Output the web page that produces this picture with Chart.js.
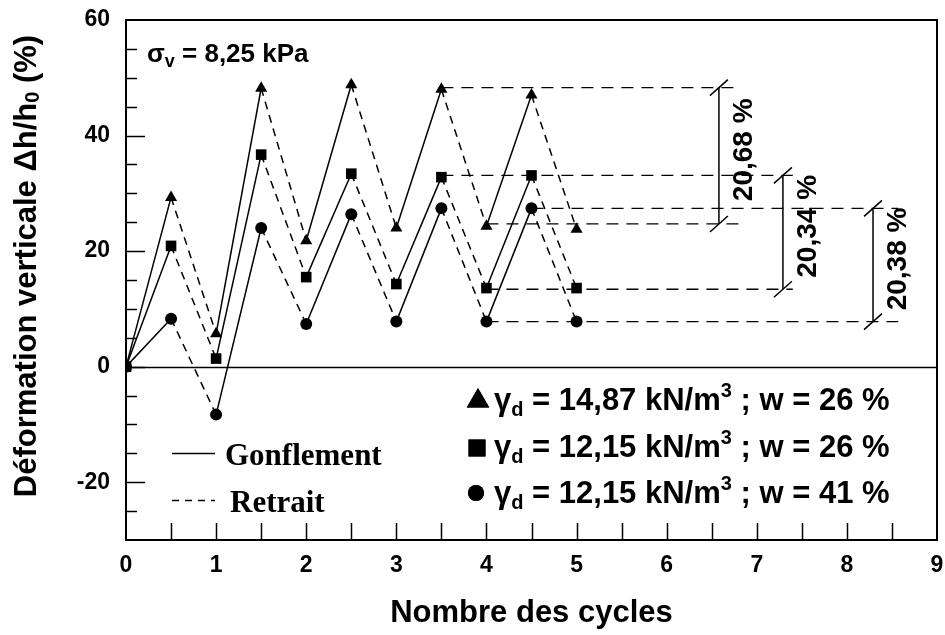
<!DOCTYPE html>
<html>
<head>
<meta charset="utf-8">
<script src="https://cdn.jsdelivr.net/npm/chart.js@4.4.0/dist/chart.umd.min.js"></script>
<style>
  html, body { margin: 0; padding: 0; background: #fff; }
  canvas { display: block; }
</style>
</head>
<body>
<canvas id="chart" width="945" height="635"></canvas>
<script>
// valeurs
const cycles = [0, 0.5, 1, 1.5, 2, 2.5, 3, 3.5, 4, 4.5, 5];
const triangleVals = [0, 29.3, 5.7, 48.2, 21.8, 48.8, 24.0, 48.0, 24.3, 47.0, 23.8];
const squareVals = [0, 20.9, 1.4, 36.7, 15.5, 33.4, 14.3, 32.8, 13.6, 33.1, 13.6];
const circleVals = [0, 8.3, -8.3, 24.0, 7.4, 26.4, 7.8, 27.4, 7.8, 27.4, 7.8];

const legendGamma = ["14,87", "12,15", "12,15"];
const legendW = ["26", "26", "41"];

// lignes de repère horizontales (niveaux max / min du dernier cycle)
const refLevels = [48.3, 24.7, 33.1, 13.4, 27.4, 7.8];
const refFrom = [3.5, 4, 3.5, 4, 4.5, 4];
const refTo = [6.8, 6.8, 7.4, 7.4, 8.57, 8.57];

// cotes verticales
const dimX = [6.58, 7.29, 8.29];
const dimTop = [48.3, 33.1, 27.4];
const dimBottom = [24.7, 13.4, 7.8];
const dimLabels = ["20,68 %", "20,34 %", "20,38 %"];

const xTicks = { min: 0, max: 9, step: 0.5 };
const yTicks = { min: -30, max: 60, step: 5, labelEvery: 20 };

const SANS = "'Liberation Sans', Arial, sans-serif";
const SERIF = "'Liberation Serif', 'Times New Roman', serif";

function pts(ys) {
  return cycles.map((x, i) => ({ x, y: ys[i] }));
}

function series(label, ys, style, radius) {
  return {
    label,
    data: pts(ys),
    showLine: true,
    borderColor: "#000",
    backgroundColor: "#000",
    borderWidth: 1.5,
    pointStyle: style,
    pointRadius: radius,
    pointBorderWidth: 0,
    segment: {
      // montée = gonflement (trait plein), descente = retrait (tirets)
      borderDash: ctx => (ctx.p0.parsed.x % 1 === 0 ? [] : [8, 6])
    }
  };
}

const refSets = refLevels.map((lv, i) => ({
  data: [{ x: refFrom[i], y: lv }, { x: refTo[i], y: lv }],
  showLine: true,
  borderColor: "#000",
  borderWidth: 1.3,
  borderDash: [12, 8],
  pointRadius: 0
}));

const dimSets = dimX.map((x, i) => ({
  data: [{ x, y: dimTop[i] }, { x, y: dimBottom[i] }],
  showLine: true,
  borderColor: "#000",
  borderWidth: 1.5,
  pointRadius: 0
}));

function richText(ctx, x, y, parts) {
  // parts: [texte, taille, décalage vertical]
  let cx = x;
  for (const [t, size, dy] of parts) {
    ctx.font = `bold ${size}px ${SANS}`;
    ctx.fillText(t, cx, y + dy);
    cx += ctx.measureText(t).width;
  }
  return cx - x;
}

function richWidth(ctx, parts) {
  let w = 0;
  for (const [t, size] of parts) {
    ctx.font = `bold ${size}px ${SANS}`;
    w += ctx.measureText(t).width;
  }
  return w;
}

const decor = {
  id: "decor",
  beforeDatasetsDraw(chart) {
    const { ctx, chartArea: a, scales: { y } } = chart;
    ctx.save();
    ctx.strokeStyle = "#000";
    ctx.lineWidth = 1.5;
    const y0 = Math.round(y.getPixelForValue(0)) + 0.5;
    ctx.beginPath();
    ctx.moveTo(a.left, y0);
    ctx.lineTo(a.right, y0);
    ctx.stroke();
    ctx.restore();
  },
  afterDraw(chart) {
    const { ctx, chartArea: a, scales: { x, y } } = chart;
    ctx.save();
    ctx.strokeStyle = "#000";
    ctx.fillStyle = "#000";

    // cadre
    ctx.lineWidth = 2;
    ctx.strokeRect(a.left, a.top, a.right - a.left, a.bottom - a.top);

    // graduations vers l'intérieur
    ctx.lineWidth = 1.5;
    ctx.beginPath();
    x.ticks.forEach(t => {
      if (t.value <= xTicks.min || t.value >= xTicks.max) return;
      const px = Math.round(x.getPixelForValue(t.value)) + 0.5;
      ctx.moveTo(px, a.bottom);
      ctx.lineTo(px, a.bottom - 17);
    });
    y.ticks.forEach(t => {
      if (t.value <= yTicks.min || t.value >= yTicks.max) return;
      const py = Math.round(y.getPixelForValue(t.value)) + 0.5;
      const len = t.value % yTicks.labelEvery === 0 ? 19 : 11;
      ctx.moveTo(a.left, py);
      ctx.lineTo(a.left + len, py);
    });
    ctx.stroke();

    // cotes : petites barres obliques et valeurs
    dimX.forEach((v, i) => {
      const px = x.getPixelForValue(v);
      const pt = y.getPixelForValue(dimTop[i]);
      const pb = y.getPixelForValue(dimBottom[i]);
      ctx.lineWidth = 1.5;
      ctx.beginPath();
      [pt, pb].forEach(py => {
        ctx.moveTo(px - 9, py + 8);
        ctx.lineTo(px + 9, py - 8);
      });
      ctx.stroke();
      ctx.save();
      ctx.translate(px + 25, (pt + pb) / 2 - 6);
      ctx.rotate(-Math.PI / 2);
      ctx.font = `bold 28px ${SANS}`;
      ctx.textAlign = "center";
      ctx.textBaseline = "middle";
      ctx.fillText(dimLabels[i], 0, 0);
      ctx.restore();
    });

    // sigma_v
    ctx.textAlign = "left";
    ctx.textBaseline = "alphabetic";
    richText(ctx, 147, 62, [["σ", 26, 0], ["v", 18, 5], [" = 8,25 kPa", 26, 0]]);

    // légende gonflement / retrait
    ctx.lineWidth = 1.5;
    ctx.beginPath();
    ctx.moveTo(172, 453.5);
    ctx.lineTo(215, 453.5);
    ctx.stroke();
    ctx.setLineDash([7, 6]);
    ctx.beginPath();
    ctx.moveTo(172, 500.5);
    ctx.lineTo(215, 500.5);
    ctx.stroke();
    ctx.setLineDash([]);
    ctx.font = `bold 31px ${SERIF}`;
    ctx.fillText("Gonflement", 225, 465);
    ctx.fillText("Retrait", 230, 512);

    // légende des séries
    const styles = [["triangle", 13, 478, 401], ["rect", 12, 477, 448], ["circle", 8, 476, 493]];
    const baselines = [410, 457, 503];
    styles.forEach(([st, r, mx, my], i) => {
      ctx.beginPath();
      Chart.helpers.drawPoint(ctx, { pointStyle: st, radius: r, rotation: 0, borderWidth: 0 }, mx, my);
      ctx.fill();
      richText(ctx, 494, baselines[i], [
        ["γ", 31, 0], ["d", 20, 6],
        [" = " + legendGamma[i] + " kN/m", 31, 0], ["3", 20, -13],
        [" ; w = " + legendW[i] + " %", 31, 0]
      ]);
    });

    // titre de l'axe vertical
    const parts = [["Déformation verticale Δh/h", 31, 0], ["0", 20, 6], [" (%)", 31, 0]];
    ctx.save();
    ctx.translate(27, 266);
    ctx.rotate(-Math.PI / 2);
    ctx.textBaseline = "middle";
    const w = richWidth(ctx, parts);
    richText(ctx, -w / 2, 0, parts);
    ctx.restore();

    ctx.restore();
  }
};

new Chart(document.getElementById("chart"), {
  type: "scatter",
  data: {
    datasets: [
      series("γd = 14,87 kN/m3 ; w = 26 %", triangleVals, "triangle", 7),
      series("γd = 12,15 kN/m3 ; w = 26 %", squareVals, "rect", 7.5),
      series("γd = 12,15 kN/m3 ; w = 41 %", circleVals, "circle", 6),
      ...refSets,
      ...dimSets
    ]
  },
  options: {
    responsive: false,
    animation: false,
    layout: { padding: { top: 20, right: 8, left: 0, bottom: 0 } },
    plugins: {
      legend: { display: false },
      tooltip: { enabled: false }
    },
    scales: {
      x: {
        type: "linear",
        min: xTicks.min,
        max: xTicks.max,
        grid: { display: false, drawTicks: false },
        border: { display: true, color: "#000", width: 2 },
        ticks: {
          stepSize: xTicks.step,
          autoSkip: false,
          maxRotation: 0,
          padding: 12,
          color: "#000",
          font: { family: SANS, weight: "bold", size: 23 },
          callback: v => (Number.isInteger(v) ? String(v) : "")
        },
        title: {
          display: true,
          text: "Nombre des cycles",
          color: "#000",
          font: { family: SANS, weight: "bold", size: 31 },
          padding: { top: 0, bottom: 3 }
        },
        afterFit: s => {
          s.height = 95;
          s.paddingLeft = 0;
          s.paddingRight = 0;
        }
      },
      y: {
        min: yTicks.min,
        max: yTicks.max,
        grid: { display: false, drawTicks: false },
        border: { display: true, color: "#000", width: 2 },
        ticks: {
          stepSize: yTicks.step,
          autoSkip: false,
          padding: 16,
          color: "#000",
          font: { family: SANS, weight: "bold", size: 23 },
          callback: v => (v % yTicks.labelEvery === 0 ? String(v) : "")
        },
        afterFit: s => {
          s.width = 126;
          s.paddingTop = 0;
          s.paddingBottom = 0;
        }
      }
    }
  },
  plugins: [decor]
});
</script>
</body>
</html>
